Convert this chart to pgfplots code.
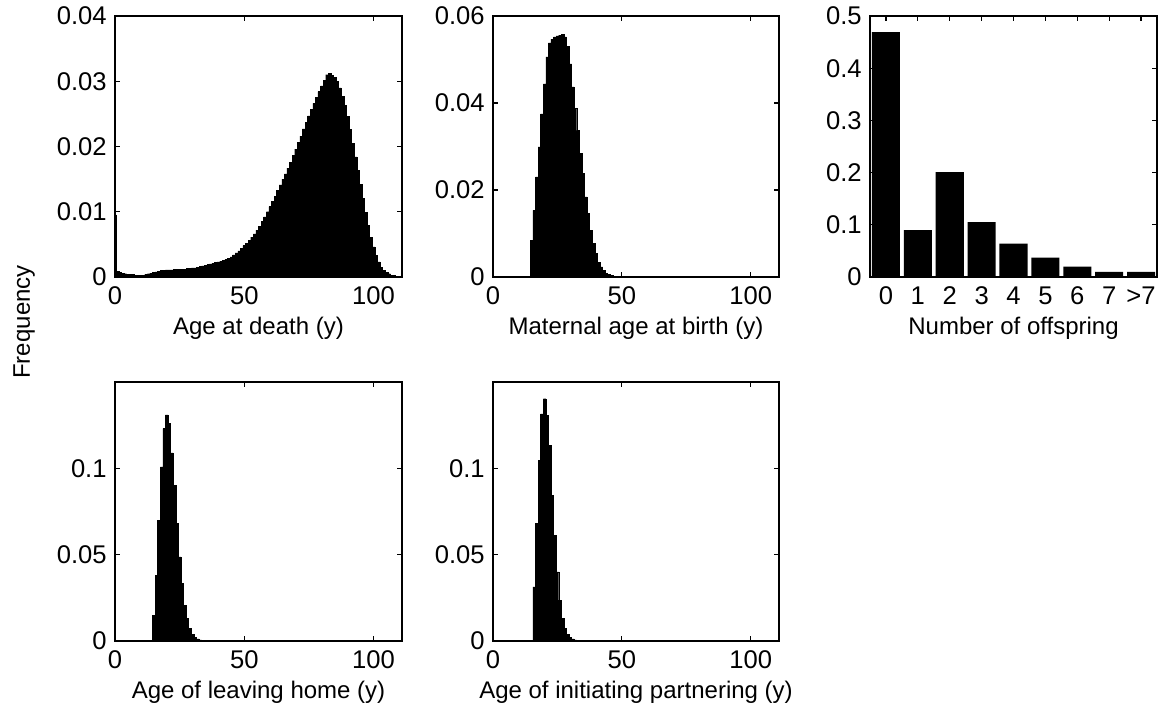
\documentclass[border=0pt]{standalone}
\usepackage{pgfplots}
\pgfplotsset{compat=1.18}
\usepackage{fontspec}
\setmainfont{Liberation Sans}
\newcommand{\ff}{\fontsize{12}{14}\selectfont}
\newcommand{\ft}{\fontsize{12.8}{14}\selectfont}
\pgfplotsset{
  mystyle/.style={
    scale only axis,
    scaled ticks=false,
    axis line style={line width=0.7pt},
    every tick/.style={line width=0.6pt, black},
    major tick length=2.5pt,
    xtick pos=both, ytick pos=both,
    tick align=inside,
    xticklabel style={font=\ft, inner sep=0pt, anchor=north, yshift=-4.5pt},
    yticklabel style={font=\ft, inner sep=0pt, anchor=east, xshift=-4pt},
    xlabel style={font=\ff, at={(axis description cs:0.5,0)}, anchor=base, yshift=-29pt},
    anchor=south west,
  },
  hist/.style={const plot, fill=black, draw=black, line width=0.2pt},
}
\begin{document}
\begin{tikzpicture}
\path[use as bounding box] (0,0) rectangle (580.5pt,357.5pt);
\node[rotate=90, font=\ff] at (12pt,196.5pt) {Frequency};

% Panel 1
\begin{axis}[mystyle, at={(57.5pt,219pt)}, width=143.5pt, height=130.5pt,
  xmin=0, xmax=111, ymin=0, ymax=0.04,
  xtick={0,50,100}, xticklabels={0,50,100},
  ytick={0,0.01,0.02,0.03,0.04}, yticklabels={0,0.01,0.02,0.03,0.04},
  xlabel={Age at death (y)}]
\addplot[hist] table {
x y
-0.5 0.0095
0.5 0.0009
1.5 0.0007
2.5 0.0006
3.5 0.0005
4.5 0.0004
5.5 0.0004
6.5 0.0004
7.5 0.0003
8.5 0.0003
9.5 0.0003
10.5 0.0003
11.5 0.0004
12.5 0.0005
13.5 0.0006
14.5 0.0007
15.5 0.0008
16.5 0.0009
17.5 0.0010
18.5 0.0010
19.5 0.0011
20.5 0.0011
21.5 0.0011
22.5 0.0012
23.5 0.0012
24.5 0.0012
25.5 0.0012
26.5 0.0012
27.5 0.0013
28.5 0.0013
29.5 0.0014
30.5 0.0014
31.5 0.0015
32.5 0.0016
33.5 0.0017
34.5 0.0018
35.5 0.0019
36.5 0.0020
37.5 0.0021
38.5 0.0022
39.5 0.0023
40.5 0.0024
41.5 0.0026
42.5 0.0027
43.5 0.0029
44.5 0.0031
45.5 0.0034
46.5 0.0037
47.5 0.0040
48.5 0.0044
49.5 0.0048
50.5 0.0052
51.5 0.0056
52.5 0.0061
53.5 0.0066
54.5 0.0072
55.5 0.0078
56.5 0.0085
57.5 0.0092
58.5 0.0100
59.5 0.0108
60.5 0.0116
61.5 0.0124
62.5 0.0133
63.5 0.0141
64.5 0.0150
65.5 0.0158
66.5 0.0167
67.5 0.0176
68.5 0.0186
69.5 0.0196
70.5 0.0206
71.5 0.0216
72.5 0.0227
73.5 0.0237
74.5 0.0247
75.5 0.0257
76.5 0.0266
77.5 0.0275
78.5 0.0284
79.5 0.0293
80.5 0.0301
81.5 0.0310
82.5 0.0312
83.5 0.0309
84.5 0.0306
85.5 0.0300
86.5 0.0290
87.5 0.0277
88.5 0.0263
89.5 0.0246
90.5 0.0226
91.5 0.0205
92.5 0.0184
93.5 0.0163
94.5 0.0142
95.5 0.0120
96.5 0.0099
97.5 0.0079
98.5 0.0061
99.5 0.0046
100.5 0.0033
101.5 0.0023
102.5 0.0015
103.5 0.0010
104.5 0.0007
105.5 0.0005
106.5 0.0003
107.5 0.0002
108.5 0.0001
109.5 0.0001
110.5 0.0001
} \closedcycle;
\end{axis}

% Panel 2
\begin{axis}[mystyle, at={(246.5pt,219pt)}, width=143pt, height=130.5pt,
  xmin=0, xmax=111, ymin=0, ymax=0.06,
  xtick={0,50,100}, xticklabels={0,50,100},
  ytick={0,0.02,0.04,0.06}, yticklabels={0,0.02,0.04,0.06},
  xlabel={Maternal age at birth (y)}]
\addplot[hist] table {
x y
14.5 0.0084
15.5 0.0153
16.5 0.0230
17.5 0.0299
18.5 0.0375
19.5 0.0444
20.5 0.0506
21.5 0.0538
22.5 0.0547
23.5 0.0552
24.5 0.0554
25.5 0.0556
26.5 0.0557
27.5 0.0552
28.5 0.0530
29.5 0.0490
30.5 0.0437
31.5 0.0387
32.5 0.0337
33.5 0.0284
34.5 0.0238
35.5 0.0184
36.5 0.0146
37.5 0.0107
38.5 0.0077
39.5 0.0054
40.5 0.0034
41.5 0.0023
42.5 0.0015
43.5 0.0009
44.5 0.0006
45.5 0.0004
46.5 0.0002
47.5 0.0001
48.5 0.0001
} \closedcycle;
\end{axis}

% Panel 3
\begin{axis}[mystyle, at={(435pt,219pt)}, width=143.5pt, height=130.5pt,
  xmin=-0.5, xmax=8.5, ymin=0, ymax=0.5,
  xtick={0,1,2,3,4,5,6,7,8}, xticklabels={0,1,2,3,4,5,6,7,>7},
  ytick={0,0.1,0.2,0.3,0.4,0.5}, yticklabels={0,0.1,0.2,0.3,0.4,0.5},
  xlabel={Number of offspring}]
\addplot[ybar, bar width=0.88, fill=black, draw=none] coordinates {
(0,0.469) (1,0.090) (2,0.201) (3,0.105) (4,0.064) (5,0.037) (6,0.020) (7,0.010) (8,0.010)};
\end{axis}

% Panel 4
\begin{axis}[mystyle, at={(57.5pt,37pt)}, width=143.5pt, height=129.5pt,
  xmin=0, xmax=111, ymin=0, ymax=0.15,
  xtick={0,50,100}, xticklabels={0,50,100},
  ytick={0,0.05,0.1}, yticklabels={0,0.05,0.1},
  xlabel={Age of leaving home (y)}]
\addplot[hist] table {
x y
14.5 0.0150
15.5 0.0382
16.5 0.0699
17.5 0.1008
18.5 0.1230
19.5 0.1310
20.5 0.1260
21.5 0.1090
22.5 0.0900
23.5 0.0680
24.5 0.0487
25.5 0.0333
26.5 0.0208
27.5 0.0131
28.5 0.0073
29.5 0.0039
30.5 0.0021
31.5 0.0012
32.5 0.0006
33.5 0.0003
34.5 0.0001
35.5 0.0001
} \closedcycle;
\end{axis}

% Panel 5
\begin{axis}[mystyle, at={(246.5pt,37pt)}, width=143pt, height=129.5pt,
  xmin=0, xmax=111, ymin=0, ymax=0.15,
  xtick={0,50,100}, xticklabels={0,50,100},
  ytick={0,0.05,0.1}, yticklabels={0,0.05,0.1},
  xlabel={Age of initiating partnering (y)}]
\addplot[hist] table {
x y
15.5 0.0314
16.5 0.0680
17.5 0.1046
18.5 0.1316
19.5 0.1403
20.5 0.1306
21.5 0.1133
22.5 0.0844
23.5 0.0613
24.5 0.0401
25.5 0.0237
26.5 0.0131
27.5 0.0073
28.5 0.0039
29.5 0.0021
30.5 0.0012
31.5 0.0006
32.5 0.0003
33.5 0.0001
34.5 0.0001
} \closedcycle;
\end{axis}
\end{tikzpicture}
\end{document}
